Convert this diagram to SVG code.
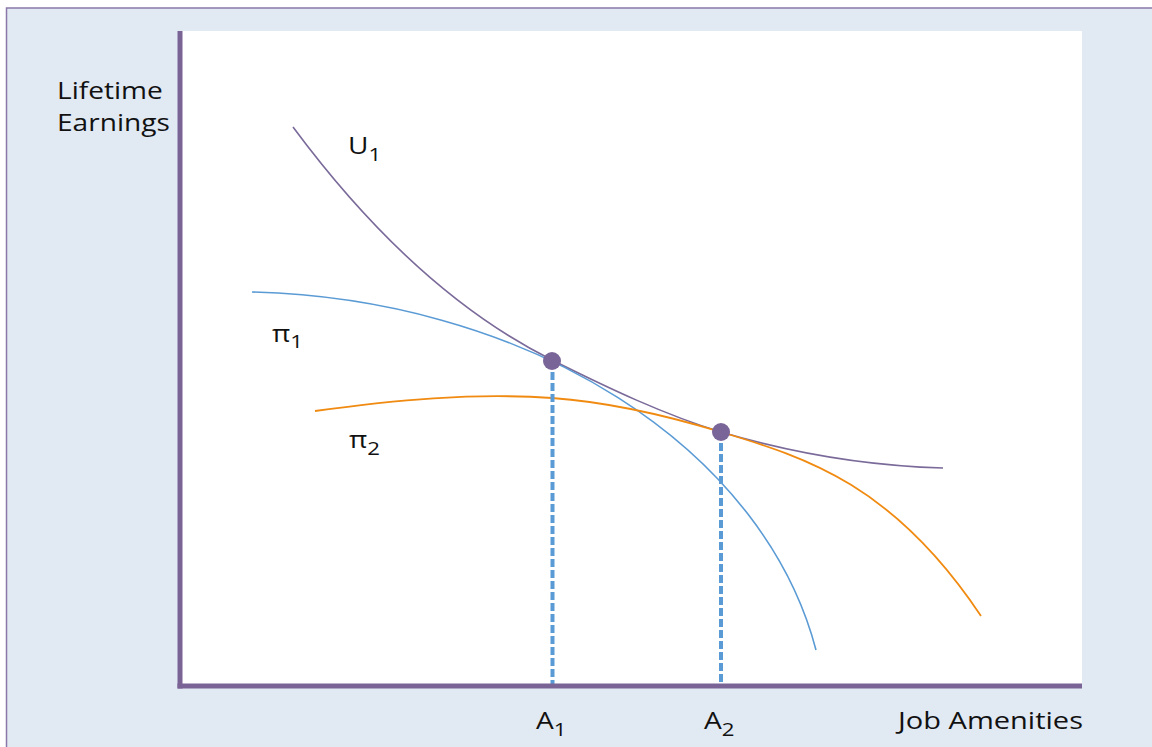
<svg xmlns="http://www.w3.org/2000/svg" width="1152" height="747" viewBox="0 0 1152 747">
<style>
.t{font-family:"Open Sans","Liberation Sans",sans-serif;font-size:24px;fill:#111}
.sub{font-size:19px}
.axis{stroke:#7A6496;stroke-width:5;fill:none}
.curve{fill:none;stroke-linecap:butt}
.dash{stroke:#5B9BD5;stroke-width:4;stroke-dasharray:8 3;fill:none}
.dot{fill:#7A6599}
</style>
<rect x="0" y="0" width="1152" height="747" fill="#ffffff"/>
<rect id="frame" x="6.5" y="8" width="1160" height="760" fill="#E1E9F3" stroke="#8B78A8" stroke-width="1.5"/>
<rect id="plot" x="182" y="31" width="900" height="654" fill="#ffffff"/>
<g id="connectors">
<path id="U1-curve" class="curve" d="M293,127 C379,243 466,317 552,360 C608,388 665,415 721,432 C795,454 869,466 943,468" stroke="#7A6A9A" stroke-width="1.6"/>
<path id="pi1-curve" class="curve" d="M252,292 A595,443 0 0 1 816,650" stroke="#5B9BD5" stroke-width="1.6"/>
<path id="pi2-curve" class="curve" d="M315,411 C394,400 473,392.5 552,398 C608,402 665,415 721,432 C808,458 894,485.5 981,616" stroke="#F08A10" stroke-width="1.8"/>
<line id="drop-A1" class="dash" x1="552.5" y1="361" x2="552.5" y2="685"/>
<line id="drop-A2" class="dash" x1="721" y1="432" x2="721" y2="685"/>
</g>
<g id="axes">
<line class="axis" x1="180" y1="31" x2="180" y2="688.5"/>
<line class="axis" x1="177.5" y1="686" x2="1082" y2="686"/>
</g>
<g id="point-1"><circle class="dot" cx="552" cy="361" r="9"/></g>
<g id="point-2"><circle class="dot" cx="721" cy="432" r="9"/></g>
<g id="label-y"><text class="t" transform="translate(57,99) scale(1.17,1)">Lifetime</text><text class="t" transform="translate(57,131) scale(1.17,1)">Earnings</text></g>
<g id="label-x"><text class="t" transform="translate(898,729) scale(1.21,1)">Job Amenities</text></g>
<g id="label-U1"><text class="t" transform="translate(348,154) scale(1.17,1)">U<tspan class="sub" dy="7">1</tspan></text></g>
<g id="label-pi1"><text class="t" transform="translate(272,342) scale(1.17,1)">π<tspan class="sub" dy="6">1</tspan></text></g>
<g id="label-pi2"><text class="t" transform="translate(349,448) scale(1.17,1)">π<tspan class="sub" dy="7">2</tspan></text></g>
<g id="label-A1"><text class="t" transform="translate(536,729) scale(1.17,1)">A<tspan class="sub" dy="7">1</tspan></text></g>
<g id="label-A2"><text class="t" transform="translate(704,729) scale(1.17,1)">A<tspan class="sub" dy="7">2</tspan></text></g>
</svg>
